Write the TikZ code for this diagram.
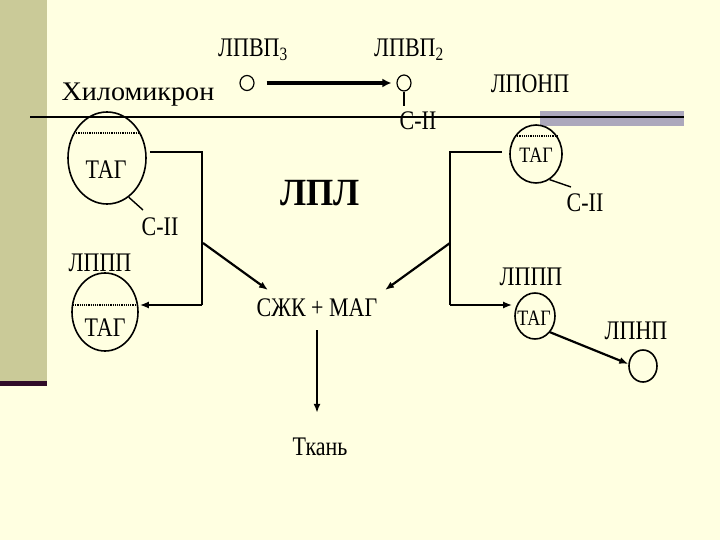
\documentclass[tikz,border=0pt]{standalone}
\usepackage{fontspec}
\setmainfont{Liberation Serif}
\usetikzlibrary{arrows.meta,shapes.geometric}
\definecolor{cream}{RGB}{255,255,225}
\definecolor{khaki}{RGB}{202,202,152}
\definecolor{darkplum}{RGB}{48,12,40}
\definecolor{barg}{RGB}{172,168,188}
\tikzset{
  txt/.style={inner sep=0pt, font=\fontsize{22}{22}\selectfont, yscale=1.22},
  small/.style={inner sep=0pt, font=\fontsize{18}{18}\selectfont, yscale=1.22},
  blob/.style={draw, ellipse, line width=1.6pt, inner sep=0pt},
  ln/.style={line width=1.8pt},
  arr/.style={line width=2.2pt, -{Latex[length=9pt,width=7pt]}},
  chord/.style={line width=1.2pt, densely dotted}
}
\begin{document}
\begin{tikzpicture}[x=1pt,y=-1pt]
\useasboundingbox (0,0) rectangle (720,540);
\fill[cream] (0,0) rectangle (720,540);
\fill[khaki] (0,0) rectangle (47,381);
\fill[darkplum] (0,381) rectangle (47,386);
\fill[barg] (540,111) rectangle (684,126);
\draw[line width=2pt] (30,117) -- (684,117);

% top
\node[txt, xscale=1.28] (chylolab) at (138,95) {Хиломикрон};
\node[txt] (hdl3lab) at (253,50) {ЛПВП\textsubscript{3}};
\node[blob, minimum width=14pt, minimum height=15pt, line width=1.2pt] (hdl3) at (247,83) {};
\node[txt] (hdl2lab) at (409,50) {ЛПВП\textsubscript{2}};
\node[blob, minimum width=14pt, minimum height=16pt, line width=1.2pt] (hdl2) at (404,83) {};
\coordinate (hdl2s) at (404,106);
\draw[line width=1.4pt] (hdl2.south) -- (hdl2s);
\node[txt] (c2top) at (418,121) {С-II};
\draw[line width=3.2pt, -{Latex[length=9pt,width=9pt]}, shorten <=12pt, shorten >=5pt] (hdl3) -- (hdl2);
\node[txt] (vldllab) at (530,84) {ЛПОНП};

% right VLDL
\node[blob, minimum width=52pt, minimum height=58pt] (vldl) at (536,154) {};
\draw[chord] (515,136) -- (557,136);
\node[small] (vtag) at (536,155) {ТАГ};
\coordinate (vstem) at (571,187);
\draw[line width=1.4pt] (vldl.-62) -- (vstem);
\node[txt] (c2r) at (585,203) {С-II};
\coordinate (rtop) at (450,152);
\coordinate (rbot) at (450,305);
\coordinate (rmid) at (450,243);
\draw[ln] ([xshift=-7pt]vldl.west |- rtop) -- (rtop) -- (rbot);
\node[txt] (idl2lab) at (531,277) {ЛППП};
\node[blob, minimum width=40pt, minimum height=46pt] (idl2) at (535,316) {};
\node[small] (itag2) at (534,318) {ТАГ};
\draw[arr] (rbot) -- ([xshift=-2pt]idl2.west |- rbot);
\node[txt] (ldllab) at (636,331) {ЛПНП};
\node[blob, minimum width=28pt, minimum height=32pt] (ldl) at (643,366) {};
\draw[arr] (idl2.-47) -- (ldl.172);

% left
\node[blob, minimum width=78pt, minimum height=92pt] (chylo) at (107,158) {};
\draw[chord] (74,133) -- (140,133);
\node[txt] (ctag) at (106,170) {ТАГ};
\coordinate (ltop) at (202,152);
\coordinate (lbot) at (202,305);
\coordinate (lmid) at (203,243);
\draw[ln] ([xshift=3pt]chylo.east |- ltop) -- (ltop) -- (lbot);
\coordinate (lstem) at (143,210);
\draw[line width=1.4pt] (chylo.-61) -- (lstem);
\node[txt] (c2l) at (160,227) {С-II};
\node[txt] (idl1lab) at (100,263) {ЛППП};
\node[blob, minimum width=66pt, minimum height=78pt] (idl1) at (105,312) {};
\draw[chord] (73,305) -- (137,305);
\node[txt] (itag1) at (105,328) {ТАГ};
\draw[arr] (lbot) -- ([xshift=1pt]idl1.east |- lbot);

% center
\node[inner sep=0pt, font=\fontsize{35}{35}\selectfont\bfseries, yscale=1.1] (lpl) at (320,193) {ЛПЛ};
\node[txt] (ffa) at (317,308) {СЖК + МАГ};
\node[txt] (tissue) at (320,447) {Ткань};
\coordinate (ffal) at (268,290);
\coordinate (ffar) at (385,290);
\draw[arr] (lmid) -- (ffal);
\draw[arr] (rmid) -- (ffar);
\draw[arr, shorten <=22pt, shorten >=25pt] (ffa.center) -- (ffa.center |- tissue.north);
\end{tikzpicture}
\end{document}
